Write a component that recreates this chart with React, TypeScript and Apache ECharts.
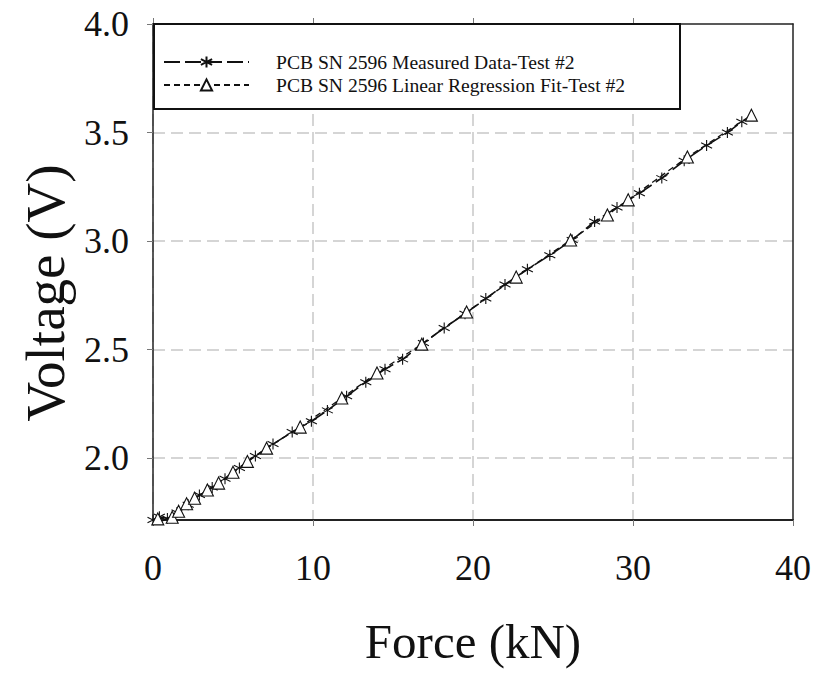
import React, { useEffect, useRef } from "react";
import * as echarts from "echarts";

// Measured data (Force kN, Voltage V)
const measuredForce = [0, 0.4, 0.9, 1.5, 2.2, 2.9, 3.7, 4.5, 5.4, 6.4, 7.5, 8.7, 9.9, 10.9, 12.1, 13.3, 14.5, 15.6, 16.9, 18.2, 19.5, 20.8, 22.0, 23.4, 24.8, 26.2, 27.6, 29.0, 30.4, 31.8, 33.2, 34.6, 35.9, 36.8];
const measuredVoltage = [1.715, 1.73, 1.722, 1.75, 1.785, 1.83, 1.865, 1.905, 1.955, 2.01, 2.065, 2.12, 2.17, 2.22, 2.285, 2.35, 2.41, 2.455, 2.53, 2.6, 2.665, 2.735, 2.8, 2.87, 2.935, 3.005, 3.09, 3.155, 3.22, 3.29, 3.37, 3.44, 3.5, 3.55];

// Linear regression fit (triangles)
const fitForce = [0.3, 1.2, 1.6, 2.1, 2.6, 3.4, 4.1, 5.0, 5.9, 7.1, 9.2, 11.8, 14.0, 16.8, 19.6, 22.7, 26.1, 28.4, 29.7, 33.4, 37.4];
const fitVoltage = [1.72, 1.728, 1.755, 1.79, 1.815, 1.853, 1.885, 1.935, 1.985, 2.046, 2.143, 2.277, 2.392, 2.525, 2.673, 2.834, 3.005, 3.12, 3.19, 3.387, 3.58];

const xTicks = [0, 10, 20, 30, 40];
const yTicks = [2.0, 2.5, 3.0, 3.5, 4.0];
const yGrid = [2.0, 2.5, 3.0, 3.5];
const xGrid = [0, 10, 20, 30];

const seriesNames = [
  "PCB SN 2596 Measured Data-Test #2",
  "PCB SN 2596 Linear Regression Fit-Test #2",
];

const FONT = "Liberation Serif";
const ASTERISK = "path://M5,0L5,10M0.7,2.5L9.3,7.5M0.7,7.5L9.3,2.5";

export default function App() {
  const ref = useRef<HTMLDivElement>(null);

  useEffect(() => {
    if (!ref.current) return;
    const chart = echarts.init(ref.current, undefined, { renderer: "svg" });
    const measured = measuredForce.map((x, i) => [x, measuredVoltage[i]]);
    const fit = fitForce.map((x, i) => [x, fitVoltage[i]]);

    const gridLine = { color: "#c8c8c8", width: 1.5, type: [12, 6] };

    chart.setOption({
      animation: false,
      backgroundColor: "#ffffff",
      textStyle: { fontFamily: FONT },
      grid: {
        left: 153,
        right: 24,
        top: 24,
        bottom: 155,
        show: false,
      },
      legend: {
        orient: "vertical",
        left: 163,
        top: 52,
        padding: 0,
        itemGap: 3,
        itemWidth: 85,
        itemHeight: 14,
        z: 10,
        textStyle: {
          fontFamily: FONT,
          fontSize: 19.6,
          color: "#111",
          lineHeight: 20,
          padding: [0, 0, 0, 22],
        },
        data: seriesNames,
      },
      graphic: [
        {
          type: "rect",
          z: 5,
          shape: { x: 154, y: 24, width: 526, height: 85 },
          style: { fill: "#fff", stroke: "#111", lineWidth: 2 },
        },
      ],
      xAxis: [
        {
          type: "value",
          min: 0,
          max: 40,
          interval: 10,
          position: "bottom",
          name: "Force (kN)",
          nameLocation: "middle",
          nameGap: 97,
          nameTextStyle: { fontFamily: FONT, fontSize: 49, color: "#111" },
          axisLine: { show: true, onZero: false, lineStyle: { color: "#222", width: 2 } },
          axisTick: { show: true, inside: false, length: 6, lineStyle: { color: "#777", width: 1 } },
          axisLabel: {
            fontFamily: FONT,
            fontSize: 36,
            color: "#111",
            margin: 30,
            customValues: xTicks,
          },
          splitLine: { show: false },
        },
        {
          type: "value",
          min: 0,
          max: 40,
          position: "top",
          axisLine: { show: true, onZero: false, lineStyle: { color: "#222", width: 1.5 } },
          axisTick: { show: true, inside: false, length: 6, customValues: xGrid, lineStyle: { color: "#777", width: 1 } },
          axisLabel: { show: false },
          splitLine: { show: true, lineStyle: gridLine },
        },
      ],
      yAxis: [
        {
          type: "value",
          min: 1.715,
          max: 4.0,
          position: "left",
          name: "Voltage (V)",
          nameLocation: "middle",
          nameGap: 80,
          nameTextStyle: {
            fontFamily: FONT,
            fontSize: 55,
            color: "#111",
            padding: [0, 42, 0, 0],
          },
          axisLine: { show: true, onZero: false, lineStyle: { color: "#222", width: 1.5 } },
          axisTick: {
            show: true,
            inside: false,
            length: 6,
            customValues: yTicks,
            lineStyle: { color: "#777", width: 1 },
          },
          axisLabel: {
            fontFamily: FONT,
            fontSize: 36,
            color: "#111",
            margin: 24,
            customValues: yTicks,
            formatter: (v: number) => v.toFixed(1),
          },
          splitLine: { show: false },
        },
        {
          type: "value",
          min: 1.715,
          max: 4.0,
          position: "right",
          axisLine: { show: true, onZero: false, lineStyle: { color: "#222", width: 1.5 } },
          axisTick: { show: false, customValues: yGrid },
          axisLabel: { show: false },
          splitLine: { show: true, lineStyle: gridLine },
        },
      ],
      series: [
        {
          name: seriesNames[0],
          type: "line",
          data: measured,
          symbol: ASTERISK,
          symbolSize: 11,
          showAllSymbol: true,
          itemStyle: { color: "transparent", borderColor: "#111", borderWidth: 1.1 },
          lineStyle: { color: "#111", width: 1.6, type: [16, 5] },
          z: 2,
        },
        {
          name: seriesNames[1],
          type: "line",
          data: fit,
          symbol: "triangle",
          symbolSize: 12,
          showAllSymbol: true,
          itemStyle: { color: "#fff", borderColor: "#111", borderWidth: 1.1 },
          lineStyle: { color: "#111", width: 1.3, type: [6, 4] },
          z: 3,
        },
      ],
    });

    return () => chart.dispose();
  }, []);

  return (
    <div
      ref={ref}
      style={{ position: "absolute", left: 0, top: 0, width: 817, height: 675, background: "#fff" }}
    />
  );
}
